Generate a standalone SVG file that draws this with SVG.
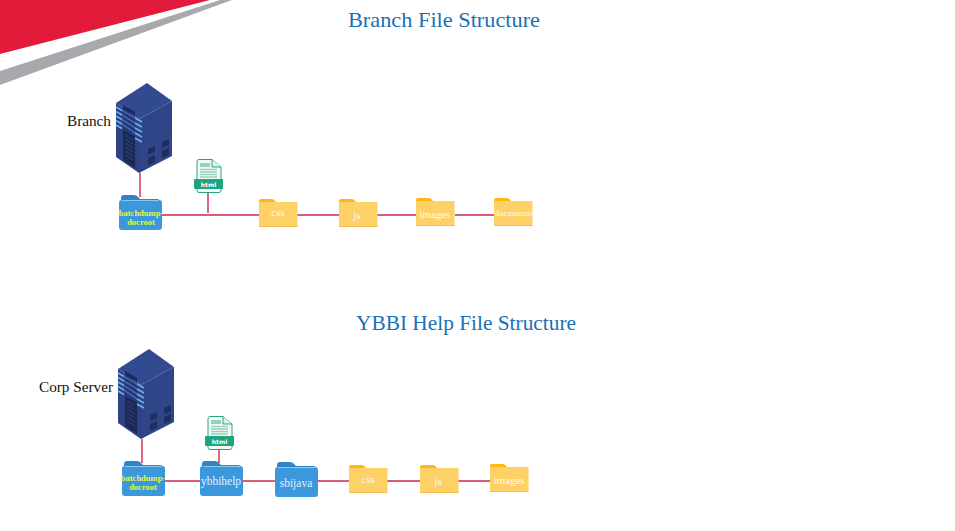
<svg xmlns="http://www.w3.org/2000/svg" width="955" height="531" viewBox="0 0 955 531">
<style>
.title{font:21px "Liberation Serif",serif;fill:#1a6fb5}
.lbl{font:15px "Liberation Serif",serif;fill:#111}
.fy{font:11px "Liberation Serif",serif;fill:#fffaf0;text-anchor:middle}
.fb{font:11.500px "Liberation Serif",serif;fill:#e2f0fb;text-anchor:middle}
.fg{font:bold 8.500px "Liberation Serif",serif;fill:#e4f542;text-anchor:middle}
.ht{font:bold 6px "DejaVu Sans",sans-serif;fill:#fff;text-anchor:middle}
.conn{stroke:#cf2848;stroke-width:1.400;fill:none}
</style>
<defs>
<g id="server">
<path d="M31 0L56 18L23 36L0 20Z" fill="#324b90"/>
<path d="M23 36L56 18V73L23 90Z" fill="#2f4587"/>
<path d="M0 20L23 36V90L0 74Z" fill="#2d4183"/>
<path d="M7 22L19 29V33L7 26Z" fill="#1c2b5c"/>
<path d="M7 27L19 34V52L7 46Z" fill="#273974"/>
<path d="M7 47L19 53V85L7 77Z" fill="#1b2955"/>
<path d="M9 52L17 57M9 56L17 61M9 60L17 65M9 64L17 69M9 68L17 73M9 72L17 77" stroke="#2e4180" stroke-width="1"/>
<g stroke="#6cb0f0" stroke-width="1.500">
<path d="M0 24L6 27.500M0 28.500L6 32M0 33L6 36.500M0 37.500L6 41M0 42L6 45.500"/>
<path d="M19 35L26 39M19 40L26 44M19 45L26 49M19 50L26 54M19 55L26 59"/>
</g>
<path d="M6 27.500L19 35M6 32L19 40M6 36.500L19 45M6 41L19 50" stroke="#4a72c0" stroke-width="1.200"/>
<path d="M32 66L39 63V69L32 72ZM46 59L53 56V62L46 65ZM32 75L39 72V79L32 82ZM46 68L53 65V72L46 75Z" fill="#1f2e60"/>
</g>
<g id="folderB">
<path d="M2 3Q2 0 5 0H15Q18 0 20 3L21 4H38Q41 4 41 7V12H2Z" fill="#2f86c6"/>
<rect x="0" y="5" width="43" height="30" rx="3" fill="#3b98dc"/>
<path d="M3 5.500H40" stroke="#a5d3f2" stroke-width=".8"/>
</g>
<g id="folderY">
<path d="M0 2Q0 0 2 0H13Q15 0 17 3H17V8H0Z" fill="#fdb813"/>
<rect x="0" y="3" width="38.500" height="25" fill="#fdd166"/>
<rect x="0" y="27" width="38.500" height="1" fill="#f3bb55"/>
</g>
<g id="html">
<path d="M5 .500H18L27 8V31.500Q27 33.500 25 33.500H5Q3 33.500 3 31.500V2.500Q3 .500 5 .500Z" fill="#f2faf7" stroke="#2aa584" stroke-width="1"/>
<path d="M18 .500V8H27" fill="#dff2ea" stroke="#2aa584" stroke-width="1"/>
<path d="M6 4H16V8H6Z" fill="#9bd0bd"/>
<path d="M6 10.500H23M6 13H23M6 15.500H23M6 18H23" stroke="#9bd0bd" stroke-width="1.300"/>
<rect x="0" y="20" width="29" height="10" rx="1" fill="#1fa380"/>
<text class="ht" x="14.500" y="27.500">html</text>
</g>
</defs>
<rect width="955" height="531" fill="#fff"/>
<g id="banner">
<polygon points="0,0 210,0 0,54" fill="#e31b3a"/>
<polygon points="220,0 232,0 0,85 0,71" fill="#a7a9ac"/>
</g>
<text class="title" id="title-branch" x="348" y="27" textLength="192" lengthAdjust="spacingAndGlyphs">Branch File Structure</text>
<text class="title" id="title-ybbi" x="356" y="330" textLength="220" lengthAdjust="spacingAndGlyphs">YBBI Help File Structure</text>
<g id="connectors" class="conn">
<path d="M140 173V197M162 215H259M208 192V213M297 215H339M377 215H416M455 215H494"/>
<path d="M142 439V463M163 481H200M219 449V463M242 481H275M317 481H349M387 481H420M458 481H490"/>
</g>
<g id="server-branch"><use href="#server" x="116" y="83"/><text class="lbl" x="67" y="126" textLength="44" lengthAdjust="spacingAndGlyphs">Branch</text></g>
<g id="server-corp"><use href="#server" x="118" y="349"/><text class="lbl" x="39" y="392" textLength="74" lengthAdjust="spacingAndGlyphs">Corp Server</text></g>
<g id="html-1"><use href="#html" x="194" y="159"/></g>
<g id="html-2"><use href="#html" x="205" y="416"/></g>
<g id="folder-docroot-1"><use href="#folderB" x="119" y="195"/><text class="fg" x="141" y="216">batchdump-</text><text class="fg" x="141" y="225">docroot</text></g>
<g id="folder-css-1"><use href="#folderY" x="259" y="199"/><text class="fy" x="278" y="216">css</text></g>
<g id="folder-js-1"><use href="#folderY" x="339" y="199"/><text class="fy" x="357" y="219">js</text></g>
<g id="folder-images-1"><use href="#folderY" x="416" y="198"/><text class="fy" x="435" y="218">images</text></g>
<g id="folder-documents-1"><use href="#folderY" x="494" y="198"/><text class="fy" x="514" y="216" style="font-size:9px">documents</text></g>
<g id="folder-docroot-2"><use href="#folderB" x="122" y="461"/><text class="fg" x="143" y="481">batchdump-</text><text class="fg" x="143" y="490">docroot</text></g>
<g id="folder-ybbihelp"><use href="#folderB" x="200" y="461"/><text class="fb" x="221" y="485">ybbihelp</text></g>
<g id="folder-sbijava"><use href="#folderB" x="275" y="462"/><text class="fb" x="296" y="487">sbijava</text></g>
<g id="folder-css-2"><use href="#folderY" x="349" y="465"/><text class="fy" x="368" y="483">css</text></g>
<g id="folder-js-2"><use href="#folderY" x="420" y="465"/><text class="fy" x="438" y="485">js</text></g>
<g id="folder-images-2"><use href="#folderY" x="490" y="464"/><text class="fy" x="509" y="484">images</text></g>
</svg>
